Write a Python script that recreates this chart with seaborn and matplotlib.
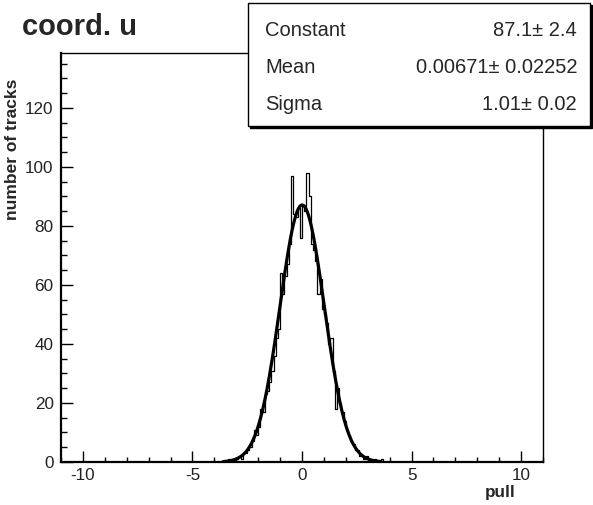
import numpy as np
import pandas as pd
import matplotlib
matplotlib.use("Agg")
import matplotlib.pyplot as plt
from matplotlib.patches import Rectangle
from matplotlib.ticker import MultipleLocator
import seaborn as sns

# ---- data -------------------------------------------------------------
bin_width = 0.1
first_edge = -3.5
counts = [0, 1, 0, 1, 0, 1, 2, 1, 3, 3,      # -3.5 .. -2.6
          4, 5, 7, 11, 9, 12, 18, 17, 23, 24,  # -2.5 .. -1.6
          27, 31, 36, 42, 45, 64, 57, 63, 67, 74,  # -1.5 .. -0.6
          97, 84, 83, 86, 76, 87, 85, 98, 90, 74,  # -0.5 .. 0.4
          72, 68, 57, 62, 52, 50, 47, 40, 42, 31,  # 0.5 .. 1.4
          18, 25, 20, 17, 14, 11, 9, 7, 6, 4,      # 1.5 .. 2.4
          4, 2, 2, 1, 2, 1, 0, 0, 1, 0,            # 2.5 .. 3.4
          0, 1, 0]                                 # 3.5 .. 3.7
fit_constant, fit_constant_err = 87.1, 2.4
fit_mean, fit_mean_err = 0.00671, 0.02252
fit_sigma, fit_sigma_err = 1.01, 0.02
title = "coord. u"
xlabel = "pull"
ylabel = "number of tracks"

n_bins = len(counts)
centers = first_edge + bin_width * (np.arange(n_bins) + 0.5)
hist_df = pd.DataFrame({"pull": centers, "n": counts})

xfit = np.linspace(-3.6, 3.6, 600)
fit_df = pd.DataFrame({
    "pull": xfit,
    "n": fit_constant * np.exp(-0.5 * ((xfit - fit_mean) / fit_sigma) ** 2),
})

# ---- figure -----------------------------------------------------------
sns.set_theme(style="ticks")
plt.rcParams["font.family"] = ["Liberation Sans", "DejaVu Sans"]
plt.rcParams["axes.unicode_minus"] = False

W, H = 593, 505
fig = plt.figure(figsize=(W / 100, H / 100), dpi=100)
ax = fig.add_axes([61 / W, 1 - 462 / H, (543 - 61) / W, (462 - 53) / H])

sns.histplot(data=hist_df, x="pull", weights="n", bins=n_bins,
             binrange=(first_edge, first_edge + n_bins * bin_width),
             element="step", fill=False, color="black", linewidth=0.9, ax=ax)
sns.lineplot(data=fit_df, x="pull", y="n", color="black", linewidth=2.3, ax=ax)

ax.set_xlim(-11, 11)
ax.set_ylim(0, 138.6)
ax.set_xticks([-10, -5, 0, 5, 10])
ax.xaxis.set_minor_locator(MultipleLocator(1))
ax.set_yticks([0, 20, 40, 60, 80, 100, 120])
ax.yaxis.set_minor_locator(MultipleLocator(5))
ax.tick_params(axis="both", which="both", direction="in", colors="black",
               labelsize=12.3, width=1.0)
ax.tick_params(axis="y", which="major", length=8.6, pad=5.3)
ax.tick_params(axis="y", which="minor", length=4.5)
ax.tick_params(axis="x", which="major", length=8.0, pad=4)
ax.tick_params(axis="x", which="minor", length=3.8)
for lab in ax.get_xticklabels() + ax.get_yticklabels():
    lab.set_color("#222222")

for side in ["left", "bottom"]:
    ax.spines[side].set_linewidth(1.6)
for side in ["right", "top"]:
    ax.spines[side].set_visible(True)
    ax.spines[side].set_linewidth(1.0)
for s in ax.spines.values():
    s.set_color("black")

ax.set_xlabel("")
ax.set_ylabel("")
fig.text(516 / W, 1 - 493 / H, xlabel, ha="right", va="center",
         fontsize=12.3, fontweight="bold")
fig.text(13 / W, 1 - 149 / H, ylabel, ha="center", va="center", rotation=90,
         fontsize=12.5, fontweight="bold")
fig.text(22 / W, 1 - 35 / H, title, ha="left", va="baseline",
         fontsize=21, fontweight="bold")

# ---- stats box --------------------------------------------------------
bx0, bx1, by0, by1 = 248, 590, 3, 126
fig.patches.append(Rectangle(((bx0 + 2) / W, 1 - (by1 + 2) / H),
                             (bx1 - bx0) / W, (by1 - by0) / H,
                             transform=fig.transFigure, facecolor="black",
                             edgecolor="black", linewidth=1, zorder=5))
fig.patches.append(Rectangle((bx0 / W, 1 - by1 / H),
                             (bx1 - bx0) / W, (by1 - by0) / H,
                             transform=fig.transFigure, facecolor="white",
                             edgecolor="black", linewidth=1, zorder=6))
rows = [("Constant", f"{fit_constant:.1f}\u00b1 {fit_constant_err:.1f}", 35.5),
        ("Mean", f"{fit_mean:.5f}\u00b1 {fit_mean_err:.5f}", 73),
        ("Sigma", f"{fit_sigma:.2f}\u00b1 {fit_sigma_err:.2f}", 110.5)]
for name, val, yy in rows:
    fig.text(265 / W, 1 - yy / H, name, ha="left", va="baseline",
             fontsize=14.5, zorder=7)
    fig.text(577 / W, 1 - yy / H, val, ha="right", va="baseline",
             fontsize=14.5, zorder=7)

fig.savefig("out.png", dpi=100)
